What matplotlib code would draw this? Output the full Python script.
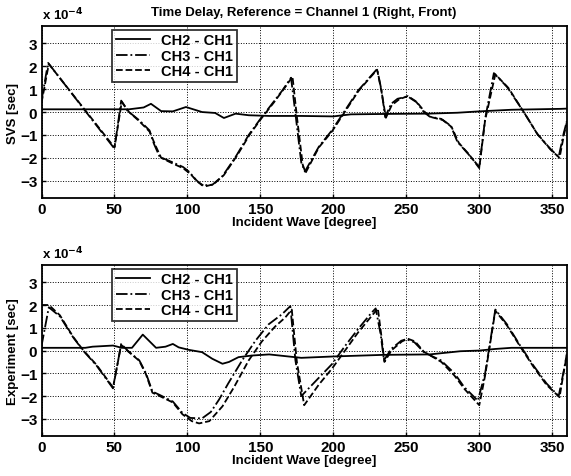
import matplotlib
matplotlib.use("Agg")
import matplotlib.pyplot as plt

# values in units of 1e-4 s, angle in degrees
svs_ch2_deg = [0, 30, 60, 70, 75, 82, 90, 99, 110, 119, 125, 133, 142, 156, 178, 200, 212, 240, 265, 285, 300, 322, 356, 360]
svs_ch2_val = [0.12, 0.12, 0.12, 0.2, 0.36, 0.04, 0.03, 0.22, 0.0, -0.04, -0.26, -0.07, -0.14, -0.17, -0.17, -0.19, -0.1, -0.08, -0.07, -0.03, 0.03, 0.1, 0.14, 0.15]

svs_ch3_deg = [0, 4.5, 50, 54.6, 59, 67, 74, 77, 81, 90, 97, 101, 106, 110, 117, 124, 133, 142, 150, 158, 165, 171,
               174, 178, 180.5, 190, 199, 208, 217, 224, 230, 233, 235.5, 239.6, 244, 251, 257, 262, 266, 274, 280.5,
               285, 292, 300, 304, 310, 319, 330.5, 339.6, 348.6, 354.4, 357.8, 360]
svs_ch3_val = [0.5, 2.15, -1.6, 0.5, 0.05, -0.36, -0.8, -1.38, -1.96, -2.2, -2.4, -2.6, -2.97, -3.2, -3.18, -2.8,
               -1.96, -1.0, -0.3, 0.36, 0.94, 1.5, -0.07, -2.2, -2.6, -1.52, -0.8, 0.07, 0.94, 1.45, 1.88, 0.94,
               -0.22, 0.36, 0.58, 0.68, 0.43, 0.0, -0.2, -0.3, -0.6, -1.3, -1.8, -2.4, -0.3, 1.7, 1.1, 0.0, -0.94,
               -1.6, -1.96, -0.94, -0.4]

svs_ch4_deg = [0, 5, 50, 55, 60, 67, 74, 78, 82, 90, 97, 102, 107, 112, 118, 125, 134, 143, 151, 159, 166, 172,
               175, 179, 181, 190, 199, 208, 217, 224, 230, 233, 236, 240, 245, 251, 257, 263, 267, 275, 281,
               286, 293, 300, 304, 311, 320, 331, 340, 349, 355, 358, 360]
svs_ch4_val = [0.4, 2.1, -1.55, 0.45, 0.0, -0.4, -0.85, -1.45, -2.0, -2.25, -2.45, -2.7, -3.05, -3.25, -3.15, -2.75,
               -1.9, -0.95, -0.25, 0.4, 1.0, 1.55, -0.2, -2.3, -2.65, -1.55, -0.85, 0.02, 0.9, 1.42, 1.85, 0.9,
               -0.25, 0.3, 0.55, 0.7, 0.45, -0.02, -0.22, -0.35, -0.65, -1.35, -1.85, -2.45, -0.35, 1.65, 1.05,
               -0.05, -0.98, -1.65, -2.0, -1.0, -0.45]

exp_ch2_deg = [0, 30, 35, 49, 55, 62, 69.4, 78.5, 85, 90, 94, 101, 110, 117, 124, 128.5, 135, 144, 156, 178, 200, 234,
               266, 287, 300, 311, 322, 356, 360]
exp_ch2_val = [0.12, 0.12, 0.17, 0.22, 0.12, 0.12, 0.7, 0.12, 0.17, 0.29, 0.14, 0.03, -0.07, -0.36, -0.58, -0.5,
               -0.29, -0.22, -0.17, -0.32, -0.26, -0.19, -0.17, -0.03, 0.0, 0.07, 0.12, 0.12, 0.12]

exp_ch3_deg = [0, 5, 12.6, 21.7, 28.5, 37.6, 49, 54.6, 59, 67, 71.6, 76, 81, 90, 96.6, 102, 110, 116, 121.6, 128,
               137.5, 146.6, 155.6, 164.7, 170.5, 174, 178, 190, 199, 208, 217, 226, 229, 232.4, 234.7, 239.6,
               246.5, 250, 255.6, 262, 266, 273.7, 283, 289.6, 299, 304, 311, 319, 328, 337, 346, 354.4, 358, 360]
exp_ch3_val = [0.2, 1.9, 1.5, 0.58, 0.0, -0.65, -1.66, 0.29, 0.0, -0.43, -1.0, -1.8, -1.95, -2.24, -2.74, -2.96,
               -2.98, -2.7, -2.16, -1.44, -0.43, 0.43, 1.15, 1.59, 1.95, -0.43, -2.0, -1.2, -0.6, 0.2, 0.95,
               1.65, 1.85, 0.72, -0.43, 0.07, 0.43, 0.5, 0.36, -0.07, -0.2, -0.43, -1.0, -1.6, -2.2, -1.0, 1.8,
               1.15, 0.22, -0.65, -1.44, -2.0, -0.86, -0.14]

exp_ch4_deg = [0, 5, 12.6, 21.7, 28.5, 37.6, 49, 54.6, 59, 67, 71.6, 76, 81, 90, 96.6, 103, 108, 115, 124, 132,
               142, 151, 160, 167, 171.5, 175, 180, 190, 199, 208, 217, 226, 230.5, 233, 235, 240, 247, 251, 256,
               262, 266, 274, 283, 290, 300, 304, 311, 319, 328, 337, 346, 355, 358, 360]
exp_ch4_val = [2.0, 2.0, 1.55, 0.6, 0.02, -0.62, -1.62, 0.25, -0.02, -0.45, -1.05, -1.85, -2.0, -2.28, -2.8, -3.1,
               -3.2, -3.1, -2.45, -1.6, -0.43, 0.4, 1.05, 1.45, 1.8, -0.5, -2.4, -1.5, -0.8, 0.0, 0.8, 1.5, 1.85,
               0.6, -0.5, 0.02, 0.4, 0.52, 0.4, -0.05, -0.2, -0.5, -1.1, -1.7, -2.4, -1.1, 1.75, 1.1, 0.18, -0.7,
               -1.5, -2.05, -0.9, -0.2]

labels = ["CH2 - CH1", "CH3 - CH1", "CH4 - CH1"]
xticks = [0, 50, 100, 150, 200, 250, 300, 350]
yticks = [-3, -2, -1, 0, 1, 2, 3]

plt.rcParams["font.family"] = ["Liberation Sans", "DejaVu Sans"]
plt.rcParams["font.weight"] = "bold"

fig = plt.figure(figsize=(5.71, 4.77), dpi=100)
ax1 = fig.add_axes([0.0727, 0.583, 0.920, 0.360])
ax2 = fig.add_axes([0.0727, 0.084, 0.920, 0.358])

panels = [
    (ax1, svs_ch2_deg, svs_ch2_val, svs_ch3_deg, svs_ch3_val, svs_ch4_deg, svs_ch4_val, "SVS [sec]"),
    (ax2, exp_ch2_deg, exp_ch2_val, exp_ch3_deg, exp_ch3_val, exp_ch4_deg, exp_ch4_val, "Experiment [sec]"),
]

for ax, x2, y2, x3, y3, x4, y4, ylab in panels:
    ax.plot(x2, y2, "k-", lw=1.3, label=labels[0])
    ax.plot(x3, y3, "k-.", lw=1.3, label=labels[1])
    ax.plot(x4, y4, "k--", lw=1.3, label=labels[2])
    ax.set_xlim(0, 360)
    ax.set_ylim(-3.75, 3.75)
    ax.set_xticks(xticks)
    ax.set_yticks(yticks)
    ax.tick_params(direction="in", labelsize=11, length=3, width=1, pad=3)
    for lbl in ax.get_xticklabels() + ax.get_yticklabels():
        lbl.set_fontweight("bold")
    ax.grid(True, color="black", linestyle=":", linewidth=0.7)
    for sp in ax.spines.values():
        sp.set_linewidth(1.3)
    ax.set_xlabel("Incident Wave [degree]", fontsize=9.5, fontweight="bold", labelpad=0)
    ax.set_ylabel(ylab, fontsize=9.5, fontweight="bold", labelpad=1)
    ax.text(0.0, 1.02, r"x 10$^{-4}$", transform=ax.transAxes, fontsize=9.5, fontweight="bold",
            ha="left", va="bottom")
    leg = ax.legend(loc="upper left", bbox_to_anchor=(0.135, 0.98), borderaxespad=0,
                    fontsize=10.5, frameon=True, fancybox=False, handlelength=2.3,
                    borderpad=0.25, labelspacing=0.1, handletextpad=0.8)
    leg.get_frame().set_edgecolor("black")
    leg.get_frame().set_linewidth(1.3)
    for t in leg.get_texts():
        t.set_fontweight("bold")

ax1.set_title("Time Delay, Reference = Channel 1 (Right, Front)", fontsize=9.5, fontweight="bold", pad=8)

fig.savefig("out.png", dpi=100)
